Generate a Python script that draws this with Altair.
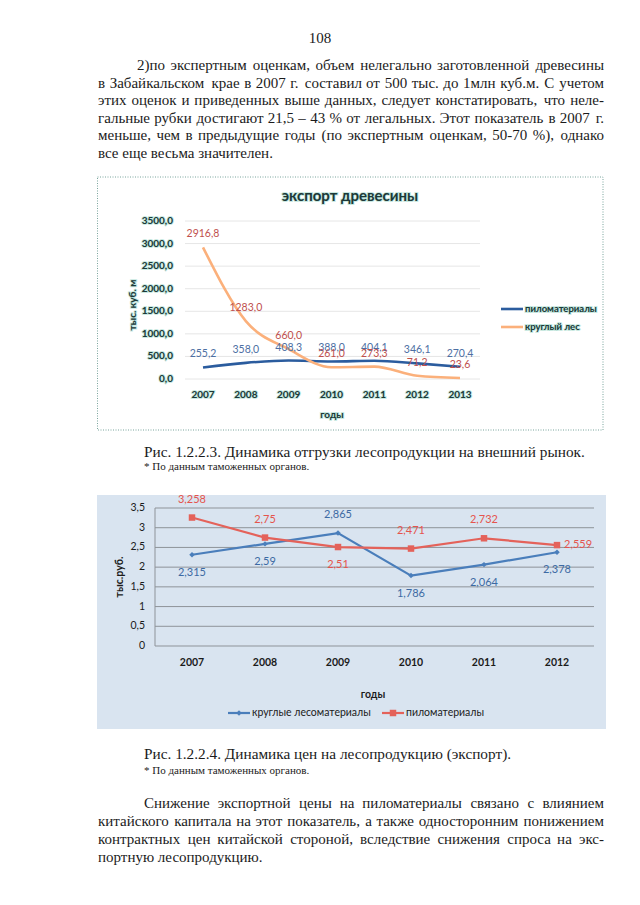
import altair as alt
import pandas as pd

# ---------------- data ----------------
years1 = [2007, 2008, 2009, 2010, 2011, 2012, 2013]
lumber1 = [255.2, 358.0, 408.3, 388.0, 404.1, 346.1, 270.4]
roundwood1 = [2916.8, 1283.0, 660.0, 261.0, 273.3, 71.2, 23.6]
yticks1 = [0, 500, 1000, 1500, 2000, 2500, 3000, 3500]

years2 = [2007, 2008, 2009, 2010, 2011, 2012]
roundwood2 = [2.315, 2.59, 2.865, 1.786, 2.064, 2.378]
lumber2 = [3.258, 2.75, 2.51, 2.471, 2.732, 2.559]
yticks2 = [0, 0.5, 1, 1.5, 2, 2.5, 3, 3.5]

# label placement for chart 2 (style, not data)
place_round2 = ["below", "below", "above", "below", "below", "below"]
place_lumber2 = ["above", "above", "below", "above", "above", "right"]

page_no = "108"
para1 = [
    "2)по экспертным оценкам, объем нелегально заготовленной древесины",
    "в Забайкальском крае в 2007 г. составил от 500 тыс. до 1млн куб.м. С учетом",
    "этих оценок и приведенных выше данных, следует констатировать, что неле-",
    "гальные рубки достигают 21,5 – 43 % от легальных. Этот показатель в 2007 г.",
    "меньше, чем в предыдущие годы (по экспертным оценкам, 50-70 %), однако",
    "все еще весьма значителен.",
]
caption1 = "Рис. 1.2.2.3. Динамика отгрузки лесопродукции на внешний рынок."
caption2 = "Рис. 1.2.2.4. Динамика цен на лесопродукцию (экспорт)."
footnote = "* По данным таможенных органов."
para2 = [
    "Снижение экспортной цены на пиломатериалы связано с влиянием",
    "китайского капитала на этот показатель, а также односторонним понижением",
    "контрактных цен китайской стороной, вследствие снижения спроса на экс-",
    "портную лесопродукцию.",
]
title1 = "экспорт древесины"
xtitle = "годы"
ytitle1 = "тыс. куб. м"
ytitle2 = "тыс.руб."
legend1 = ["пиломатериалы", "круглый лес"]
legend2 = ["круглые лесоматериалы", "пиломатериалы"]

# ---------------- styles ----------------
OFF = 8
def px(v):
    return v - OFF

SERIF = "Liberation Serif"
SANS = "Lato"
INK = "#1b1b1b"
DARK1 = "#1d3838"
GLOW = "#a6dacd"
BLUE1 = "#2b5c9e"
ORANGE1 = "#fbb07b"
BLUE1_LBL = "#4d6fa3"
RED1_LBL = "#c0504d"
BLUE2 = "#4a7ebb"
RED2 = "#e4625a"
BLUE2_LBL = "#3d6aa3"
RED2_LBL = "#e5544d"
BG2 = "#d9e4f0"
GRID2 = "#8e9399"

BODY_FS = 15
LEFT, RIGHT = 98, 604

# approximate Times advance widths (per 1000 em) used only to justify body text
CW = {" ": 250, ".": 250, ",": 250, ":": 278, ";": 278, "(": 333, ")": 333, "%": 833,
      "-": 333, "–": 500, "*": 500,
      "а": 444, "б": 509, "в": 472, "г": 410, "д": 509, "е": 444, "ё": 444, "ж": 691,
      "з": 395, "и": 535, "й": 535, "к": 486, "л": 499, "м": 633, "н": 535, "о": 500,
      "п": 535, "р": 500, "с": 444, "т": 437, "у": 500, "ф": 648, "х": 500, "ц": 535,
      "ч": 503, "ш": 770, "щ": 770, "ъ": 517, "ы": 672, "ь": 456, "э": 429, "ю": 747,
      "я": 484, "З": 601, "Э": 660, "С": 667, "Р": 556}

def est_width(word, fs):
    return sum(CW.get(c, 500) for c in word) * fs / 1000.0

one = pd.DataFrame({"k": [0]})

def text_at(txt, x, y, **kw):
    props = dict(align="left", baseline="middle")
    props.update(kw)
    return alt.Chart(pd.DataFrame({"t": [txt]})).mark_text(**props).encode(
        x=alt.value(px(x)), y=alt.value(px(y)), text="t:N")

def glow_text(txt, x, y, **kw):
    g = dict(kw)
    g.update(stroke=GLOW, strokeWidth=2, strokeOpacity=0.6, color=GLOW)
    return [text_at(txt, x, y, **g), text_at(txt, x, y, color=DARK1, **kw)]

def justified(lines, ys, indent_x, last_free=True):
    """Word layout table for a justified paragraph."""
    rows = []
    for i, (line, y) in enumerate(zip(lines, ys)):
        x0 = indent_x if i == 0 else LEFT
        words = line.split(" ")
        justify = not (last_free and i == len(lines) - 1)
        if not justify:
            rows.append(dict(w=line, px=px(x0), py=px(y), end=False))
            continue
        widths = [est_width(w, BODY_FS) for w in words]
        gap = (RIGHT - x0 - sum(widths)) / (len(words) - 1)
        x = x0
        for j, (w, wd) in enumerate(zip(words, widths)):
            if j == len(words) - 1:
                rows.append(dict(w=w, px=px(RIGHT), py=px(y), end=True))
            else:
                rows.append(dict(w=w, px=px(x), py=px(y), end=False))
            x += wd + gap
    df = pd.DataFrame(rows)
    base = alt.Chart(df).encode(x=alt.X("px:Q", scale=None), y=alt.Y("py:Q", scale=None), text="w:N")
    style = dict(font=SERIF, fontSize=BODY_FS, color=INK, baseline="middle")
    return [base.transform_filter("!datum.end").mark_text(align="left", **style),
            base.transform_filter("datum.end").mark_text(align="right", **style)]

layers = []

# ---------------- page text ----------------
serif = dict(font=SERIF, fontSize=BODY_FS, color=INK)
layers.append(text_at(page_no, 320, 38, align="center", **serif))
layers += justified(para1, [65, 82.5, 100, 117.5, 135, 152.5], 137)
layers.append(text_at(caption1, 144, 452, font=SERIF, fontSize=15.3, color=INK))
layers.append(text_at(footnote, 144, 467, font=SERIF, fontSize=11, color=INK))
layers.append(text_at(caption2, 144, 754, font=SERIF, fontSize=15.3, color=INK))
layers.append(text_at(footnote, 144, 771, font=SERIF, fontSize=11, color=INK))
layers += justified(para2, [803, 821, 839, 857], 144)

# ---------------- chart 1 ----------------
layers.append(alt.Chart(one).mark_rect(fill="white", stroke="#79a49c", strokeWidth=1,
                                       strokeDash=[1, 1.5]).encode(
    x=alt.value(px(97.5)), x2=alt.value(px(603)), y=alt.value(px(177)), y2=alt.value(px(430))))

x1s = alt.Scale(type="point", domain=years1, range=[px(203), px(460)], padding=0)
y1s = alt.Scale(domain=[0, 3500], range=[px(379), px(221)], nice=False, zero=False)

layers.append(alt.Chart(pd.DataFrame({"v": yticks1})).mark_rule(color="#e6e6e6", strokeWidth=1).encode(
    y=alt.Y("v:Q", scale=y1s, axis=None), x=alt.value(px(185)), x2=alt.value(px(480))))

df1 = pd.DataFrame({"year": years1, "lumber": lumber1, "rw": roundwood1})

def line1(field, color):
    return alt.Chart(df1).mark_line(color=color, strokeWidth=2.6, interpolate="monotone").encode(
        x=alt.X("year:O", scale=x1s, axis=None), y=alt.Y(f"{field}:Q", scale=y1s, axis=None))

def labels1(field, color):
    return alt.Chart(df1).transform_calculate(
        lbl=f"replace(format(datum['{field}'], '.1f'), '.', ',')"
    ).mark_text(color=color, dy=-13, font=SANS, fontSize=10.5, baseline="middle").encode(
        x=alt.X("year:O", scale=x1s, axis=None), y=alt.Y(f"{field}:Q", scale=y1s, axis=None),
        text="lbl:N")

layers += [line1("lumber", BLUE1), line1("rw", ORANGE1)]
layers += [labels1("lumber", BLUE1_LBL), labels1("rw", RED1_LBL)]

yt1 = alt.Chart(pd.DataFrame({"v": yticks1})).transform_calculate(
    lbl="replace(format(datum.v, '.1f'), '.', ',')").encode(
    x=alt.value(px(173)), y=alt.Y("v:Q", scale=y1s, axis=None), text="lbl:N")
tick_style = dict(align="right", baseline="middle", font=SANS, fontSize=10, fontWeight="bold")
layers.append(yt1.mark_text(stroke=GLOW, strokeWidth=2, strokeOpacity=0.6, color=GLOW, **tick_style))
layers.append(yt1.mark_text(color=DARK1, **tick_style))

xt1 = alt.Chart(pd.DataFrame({"year": years1})).encode(
    x=alt.X("year:O", scale=x1s, axis=None), y=alt.value(px(395)), text="year:O")
xstyle = dict(align="center", baseline="middle", font=SANS, fontSize=10, fontWeight="bold")
layers.append(xt1.mark_text(stroke=GLOW, strokeWidth=2, strokeOpacity=0.6, color=GLOW, **xstyle))
layers.append(xt1.mark_text(color=DARK1, **xstyle))

layers += glow_text(title1, 350, 196, align="center", font=SANS, fontSize=15, fontWeight="bold")
layers += glow_text(xtitle, 332, 415, align="center", font=SANS, fontSize=10, fontWeight="bold")
layers += glow_text(ytitle1, 133, 305, align="center", angle=270, font=SANS, fontSize=10,
                    fontWeight="bold")

# legend 1
for color, lab, y in [(BLUE1, legend1[0], 309), (ORANGE1, legend1[1], 327)]:
    layers.append(alt.Chart(one).mark_rule(color=color, strokeWidth=2.6).encode(
        x=alt.value(px(501)), x2=alt.value(px(523)), y=alt.value(px(y))))
    layers += glow_text(lab, 525, y, font=SANS, fontSize=9.5, fontWeight="bold")

# ---------------- chart 2 ----------------
layers.append(alt.Chart(one).mark_rect(fill=BG2).encode(
    x=alt.value(px(97)), x2=alt.value(px(606)), y=alt.value(px(495)), y2=alt.value(px(729))))

x2s = alt.Scale(type="point", domain=years2, range=[px(192), px(557)], padding=0)
y2s = alt.Scale(domain=[0, 3.5], range=[px(646), px(508)], nice=False, zero=False)

layers.append(alt.Chart(pd.DataFrame({"v": yticks2})).mark_rule(color=GRID2, strokeWidth=1).encode(
    y=alt.Y("v:Q", scale=y2s, axis=None), x=alt.value(px(155)), x2=alt.value(px(594))))
layers.append(alt.Chart(one).mark_rule(color=GRID2, strokeWidth=1).encode(
    x=alt.value(px(155)), y=alt.value(px(508)), y2=alt.value(px(646))))

df2 = pd.DataFrame({"year": years2, "rw": roundwood2, "lumber": lumber2,
                    "p_rw": place_round2, "p_lumber": place_lumber2})

def line2(field, color, shape, size):
    base = alt.Chart(df2).encode(x=alt.X("year:O", scale=x2s, axis=None),
                                 y=alt.Y(f"{field}:Q", scale=y2s, axis=None))
    return [base.mark_line(color=color, strokeWidth=2.2),
            base.mark_point(shape=shape, filled=True, size=size, color=color, opacity=1)]

layers += line2("rw", BLUE2, "diamond", 30)
layers += line2("lumber", RED2, "square", 42)

offsets = {"above": dict(dy=-18, align="center"), "below": dict(dy=18, align="center"),
           "right": dict(dx=7, align="left")}
for field, pfield, color in [("rw", "p_rw", BLUE2_LBL), ("lumber", "p_lumber", RED2_LBL)]:
    for place, off in offsets.items():
        layers.append(alt.Chart(df2).transform_filter(f"datum['{pfield}'] == '{place}'").transform_calculate(
            lbl=f"replace(toString(datum['{field}']), '.', ',')"
        ).mark_text(color=color, font=SANS, fontSize=11, baseline="middle", **off).encode(
            x=alt.X("year:O", scale=x2s, axis=None), y=alt.Y(f"{field}:Q", scale=y2s, axis=None),
            text="lbl:N"))

layers.append(alt.Chart(pd.DataFrame({"v": yticks2})).transform_calculate(
    lbl="replace(toString(datum.v), '.', ',')").mark_text(
    align="right", baseline="middle", font=SANS, fontSize=10.5, color=INK).encode(
    x=alt.value(px(145)), y=alt.Y("v:Q", scale=y2s, axis=None), text="lbl:N"))
layers.append(alt.Chart(pd.DataFrame({"year": years2})).mark_text(
    align="center", baseline="middle", font=SANS, fontSize=10.5, fontWeight="bold", color=INK).encode(
    x=alt.X("year:O", scale=x2s, axis=None), y=alt.value(px(663)), text="year:O"))
layers.append(text_at(xtitle, 373, 695, align="center", font=SANS, fontSize=10.5,
                      fontWeight="bold", color=INK))
layers.append(text_at(ytitle2, 120, 577, align="center", angle=270, font=SANS, fontSize=10.5,
                      fontWeight="bold", color=INK))

# legend 2
for color, shape, size, lab, x0 in [(BLUE2, "diamond", 30, legend2[0], 228),
                                     (RED2, "square", 42, legend2[1], 382)]:
    layers.append(alt.Chart(one).mark_rule(color=color, strokeWidth=2.2).encode(
        x=alt.value(px(x0)), x2=alt.value(px(x0 + 22)), y=alt.value(px(713))))
    layers.append(alt.Chart(one).mark_point(shape=shape, filled=True, size=size, color=color,
                                            opacity=1).encode(
        x=alt.value(px(x0 + 11)), y=alt.value(px(713))))
    layers.append(text_at(lab, x0 + 24, 713, font=SANS, fontSize=10.5, color=INK))

chart = alt.layer(*layers).resolve_scale(
    x="independent", y="independent"
).properties(
    width=624, height=889, padding=0, background="white",
    autosize=alt.AutoSizeParams(type="none"),
).configure_view(stroke=None)

chart.save("out.html", embed_options={"renderer": "svg", "actions": False})
